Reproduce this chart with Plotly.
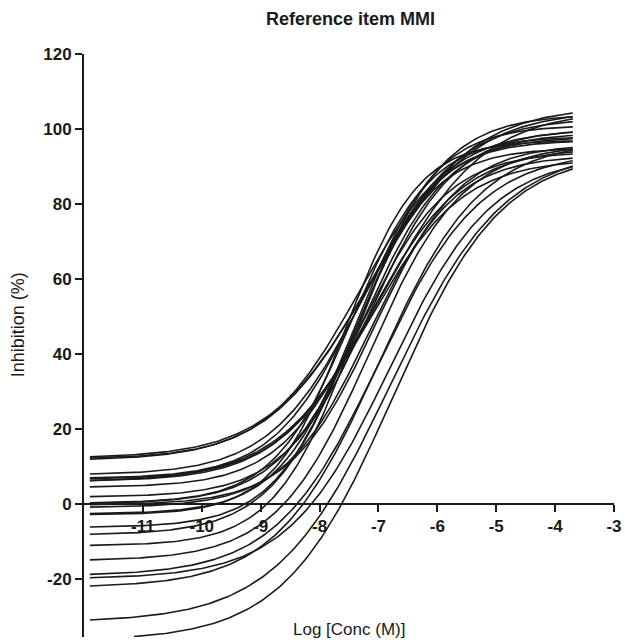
import numpy as np
import plotly.graph_objects as go

# Fitted 4-parameter logistic curves (one entry per curve)
bottom = [12.0, 11.5, 7.7, 6.8, 6.0, 5.9, 4.4, 1.8, 0.2, -0.3, -1.0, -2.7, -2.9,
          -6.3, -8.3, -11.2, 12.2, 6.5, 0.0,
          -15.2, -19.2, -20.0, -22.3, -31.6, -36.5]
top = [100, 106, 103, 98, 95, 105, 94, 100, 98, 96, 93, 101, 97,
       95, 104, 97, 105, 92, 99,
       96, 94, 93, 97, 95, 94]
log_ec50 = [-7.35, -7.15, -7.25, -7.35, -7.15, -6.95, -7.25, -7.15, -7.45, -7.05, -7.15, -7.35, -7.55,
            -7.45, -7.35, -7.45, -7.15, -7.15, -7.25,
            -7.15, -7.0, -6.8, -7.0, -6.8, -6.75]
hill = [0.55, 0.50, 0.55, 0.60, 0.55, 0.50, 0.60, 0.60, 0.65, 0.60, 0.60, 0.65, 0.70,
        0.65, 0.60, 0.65, 0.50, 0.55, 0.60,
        0.55, 0.50, 0.50, 0.50, 0.45, 0.47]
x_start = [-11.9] * 24 + [-11.15]
x_end = -3.7

x_ticks = [-11, -10, -9, -8, -7, -6, -5, -4, -3]
y_ticks = [-20, 0, 20, 40, 60, 80, 100, 120]
x_range = [-12, -3]
y_range = [-35.5, 120]

FONT = "Arial, Liberation Sans, sans-serif"
INK = "#1a1a1a"

fig = go.Figure()
for b, t, ec, h, xs in zip(bottom, top, log_ec50, hill, x_start):
    x = np.linspace(xs, x_end, 200)
    y = b + (t - b) / (1 + 10 ** ((ec - x) * h))
    fig.add_trace(go.Scatter(x=x, y=y, mode="lines",
                             line=dict(color=INK, width=1.6),
                             showlegend=False, hoverinfo="skip"))

zero_pos = (0 - y_range[0]) / (y_range[1] - y_range[0])

L, R, T, B = 84, 8, 54, 3
W, H = 625 - L - R, 640 - T - B

fig.update_layout(
    width=625, height=640,
    margin=dict(l=L, r=R, t=T, b=B),
    paper_bgcolor="white", plot_bgcolor="white",
    font=dict(family=FONT, color=INK),
    title=dict(text="<b>Reference item MMI</b>", x=(L + W / 2) / 625, xanchor="center",
               y=1 - 19 / 640, yanchor="middle", font=dict(size=18, family=FONT, color=INK)),
    xaxis=dict(range=x_range, anchor="free", position=zero_pos,
               showgrid=False, zeroline=False, showline=True, linecolor=INK, linewidth=2,
               ticks="outside", ticklen=7, tickwidth=1.5, tickcolor=INK,
               tickvals=x_ticks, ticktext=[f"<b>{v}</b>" for v in x_ticks],
               tickfont=dict(size=17, family=FONT, color=INK)),
    yaxis=dict(range=y_range, domain=[0, 1],
               showgrid=False, zeroline=False, showline=True, linecolor=INK, linewidth=2,
               ticks="outside", ticklen=7, tickwidth=1.5, tickcolor=INK,
               tickvals=y_ticks, ticktext=[f"<b>{v}</b>" for v in y_ticks],
               tickfont=dict(size=17, family=FONT, color=INK)),
)

fig.add_annotation(text="Inhibition (%)", xref="paper", yref="paper",
                   x=(18 - L) / W, y=(640 - B - 325) / H, textangle=-90,
                   xanchor="center", yanchor="middle", showarrow=False,
                   font=dict(size=18, family=FONT, color=INK))

fig.add_annotation(text="Log [Conc (M)]", xref="paper", yref="paper",
                   x=(350 - L) / W, y=(640 - B - 629) / H,
                   xanchor="center", yanchor="middle", showarrow=False,
                   font=dict(size=17, family=FONT, color=INK))

fig.write_html("out.html")
